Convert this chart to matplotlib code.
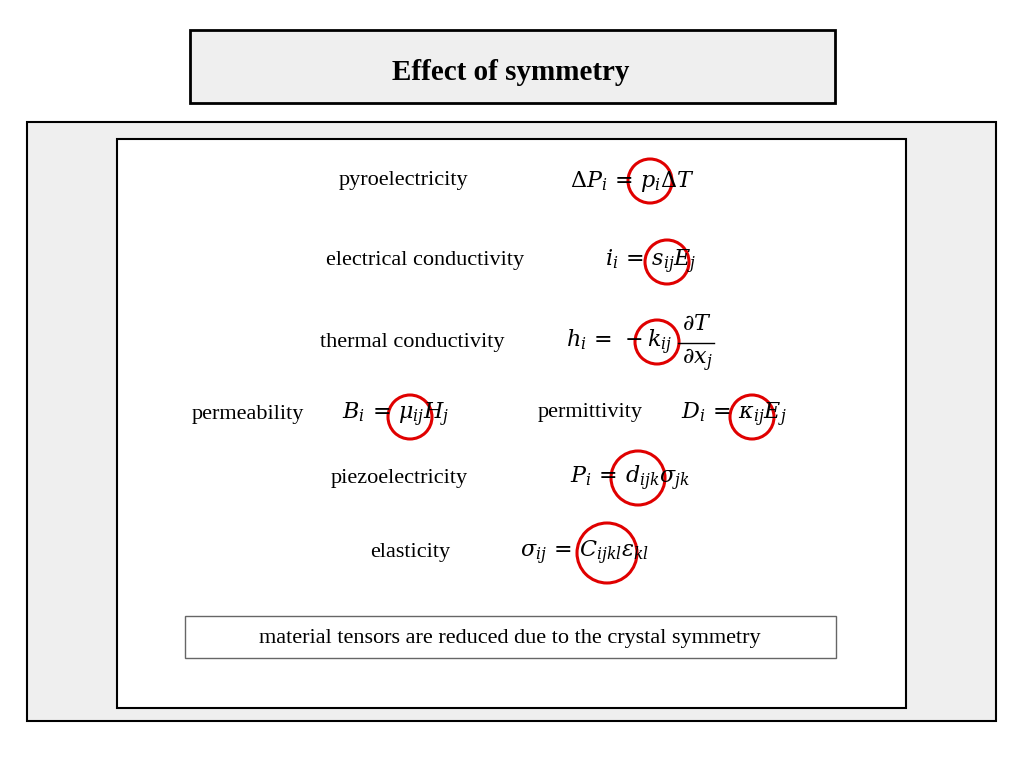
import matplotlib
matplotlib.use("Agg")
import matplotlib.pyplot as plt
from matplotlib.patches import Rectangle, Circle

title = "Effect of symmetry"
labels = ["pyroelectricity", "electrical conductivity", "thermal conductivity",
          "permeability", "permittivity", "piezoelectricity", "elasticity"]
label_pos = [(339, 181), (326, 261), (320, 342), (192, 415), (538, 413), (331, 478), (370, 553)]
equations = [r"$\Delta P_i\,=\,p_i\Delta T$", r"$i_i\,=\,s_{ij}E_j$",
             r"$h_i\,=\,-k_{ij}$", r"$B_i\,=\,\mu_{ij}H_j$",
             r"$D_i\,=\,\kappa_{ij}E_j$", r"$P_i\,=\,d_{ijk}\sigma_{jk}$",
             r"$\sigma_{ij}\,=\,C_{ijkl}\varepsilon_{kl}$"]
eq_pos = [(570, 181), (605, 262), (566, 342), (342, 415), (681, 415), (570, 478), (520, 553)]
frac_num = r"$\partial T$"
frac_den = r"$\partial x_j$"
circles = [(650, 181, 22), (667, 262, 22), (657, 342, 22), (410, 417, 22),
           (752, 417, 22), (638, 478, 27), (607, 553, 30)]
note = "material tensors are reduced due to the crystal symmetry"

plt.rcParams["mathtext.fontset"] = "dejavuserif"
fig = plt.figure(figsize=(10.24, 7.68), dpi=100)
ax = fig.add_axes([0, 0, 1, 1])
ax.set_xlim(0, 1024); ax.set_ylim(768, 0); ax.axis("off")

ax.add_patch(Rectangle((190, 30), 645, 73, fc="#efefef", ec="black", lw=2))
ax.text(511, 72, title, ha="center", va="center", fontsize=21, fontweight="bold",
        family="Liberation Serif")
ax.add_patch(Rectangle((27, 122), 969, 599, fc="#efefef", ec="black", lw=1.5))
ax.add_patch(Rectangle((117, 139), 789, 569, fc="white", ec="black", lw=1.5))

for t, (x, y) in zip(labels, label_pos):
    ax.text(x, y, t, ha="left", va="center", fontsize=16, family="Liberation Serif")
for e, (x, y) in zip(equations, eq_pos):
    ax.text(x, y, e, ha="left", va="center", fontsize=16)
# fraction for thermal conductivity
ax.text(697, 324, frac_num, ha="center", va="center", fontsize=16)
ax.plot([678, 714], [343, 343], color="black", lw=1)
ax.text(697, 360, frac_den, ha="center", va="center", fontsize=16)
for cx, cy, r in circles:
    ax.add_patch(Circle((cx, cy), r, fill=False, ec="#e00000", lw=2.2))

ax.add_patch(Rectangle((185, 616), 651, 42, fc="white", ec="#666666", lw=1))
ax.text(510, 638, note, ha="center", va="center", fontsize=16, family="Liberation Serif")

fig.savefig("out.png", dpi=100)
